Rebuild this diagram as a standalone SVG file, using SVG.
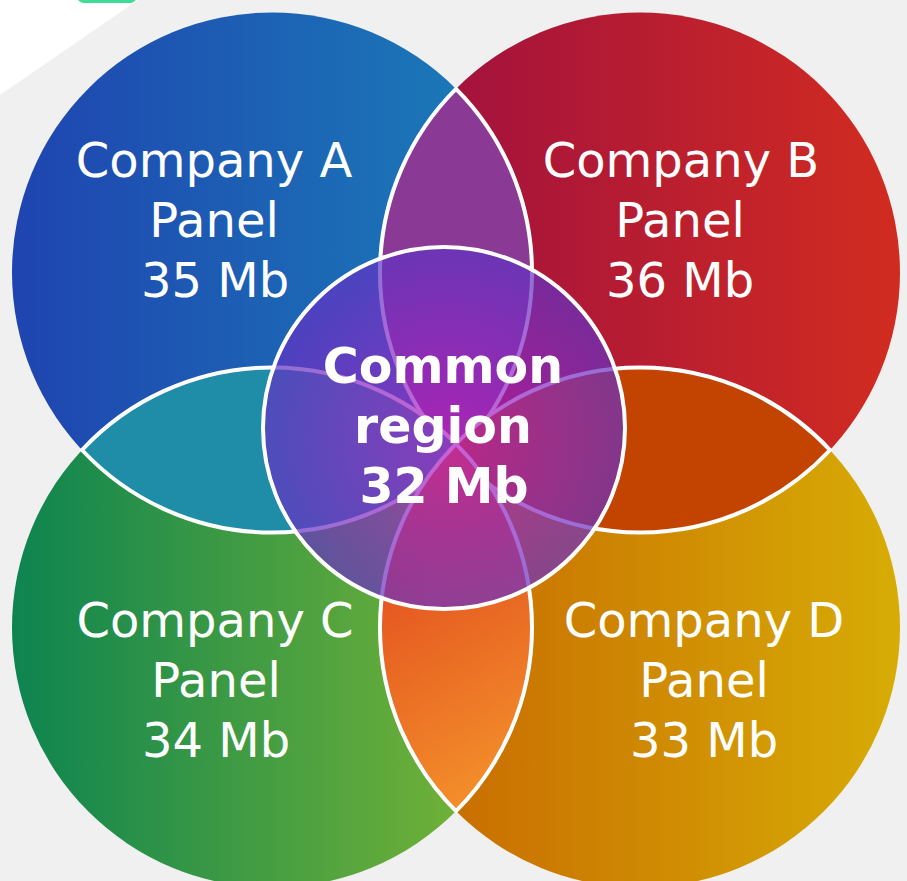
<svg xmlns="http://www.w3.org/2000/svg" width="907" height="881" viewBox="0 0 907 881">
  <defs>
    <linearGradient id="gA" gradientUnits="userSpaceOnUse" x1="12" y1="0" x2="532" y2="0">
      <stop offset="0" stop-color="#1f44b0"/>
      <stop offset="1" stop-color="#1a80b8"/>
    </linearGradient>
    <linearGradient id="gB" gradientUnits="userSpaceOnUse" x1="380" y1="0" x2="900" y2="0">
      <stop offset="0" stop-color="#9c0e42"/>
      <stop offset="1" stop-color="#d22c20"/>
    </linearGradient>
    <linearGradient id="gC" gradientUnits="userSpaceOnUse" x1="12" y1="0" x2="532" y2="0">
      <stop offset="0" stop-color="#0d8450"/>
      <stop offset="1" stop-color="#80b833"/>
    </linearGradient>
    <linearGradient id="gD" gradientUnits="userSpaceOnUse" x1="380" y1="0" x2="900" y2="0">
      <stop offset="0" stop-color="#c66400"/>
      <stop offset="1" stop-color="#d7ac05"/>
    </linearGradient>
    <linearGradient id="gCD" gradientUnits="userSpaceOnUse" x1="390" y1="580" x2="520" y2="790">
      <stop offset="0" stop-color="#e45520"/>
      <stop offset="1" stop-color="#f4922b"/>
    </linearGradient>
    <radialGradient id="gCommon" gradientUnits="userSpaceOnUse" cx="450" cy="440" r="185">
      <stop offset="0" stop-color="#b61cc2"/>
      <stop offset="1" stop-color="#6232c4"/>
    </radialGradient>
  </defs>
  <style>
    .lens { stroke: #ffffff; stroke-width: 4; }
    .lbl { font-family: "DejaVu Sans", "Liberation Sans", sans-serif; font-size: 48px; fill: #ffffff; text-anchor: middle; }
    .lblb { font-family: "DejaVu Sans", "Liberation Sans", sans-serif; font-size: 49px; font-weight: bold; fill: #ffffff; text-anchor: middle; }
  </style>
  <rect x="0" y="0" width="907" height="881" fill="#f0f0f0"/>
  <polygon points="0,0 138,0 0,95" fill="#ffffff"/>
  <rect x="77" y="-20" width="60" height="23" rx="7" fill="#3fdc98"/>

  <g id="circleA"><circle cx="272" cy="272.5" r="260" fill="url(#gA)"/></g>
  <g id="circleB"><circle cx="640" cy="272.5" r="260" fill="url(#gB)"/></g>
  <g id="circleC"><circle cx="272" cy="627.5" r="260" fill="url(#gC)"/></g>
  <g id="circleD"><circle cx="640" cy="627.5" r="260" fill="url(#gD)"/></g>

  <g id="lensAB"><path class="lens" fill="#8a3a94" d="M456,88.8 A260,260 0 0 1 456,456.2 A260,260 0 0 1 456,88.8 Z"/></g>
  <g id="lensAC"><path class="lens" fill="#1f8ca8" d="M82,450 A260,260 0 0 1 462,450 A260,260 0 0 1 82,450 Z"/></g>
  <g id="lensBD"><path class="lens" fill="#c24400" d="M450,450 A260,260 0 0 1 830,450 A260,260 0 0 1 450,450 Z"/></g>
  <g id="lensCD"><path class="lens" fill="url(#gCD)" d="M456,443.8 A260,260 0 0 1 456,811.2 A260,260 0 0 1 456,443.8 Z"/></g>

  <g id="common">
    <circle cx="444" cy="428" r="181" fill="url(#gCommon)" fill-opacity="0.7"/>
    <circle cx="444" cy="428" r="181" fill="none" stroke="#ffffff" stroke-width="4"/>
    <text class="lblb" x="443" y="383">Common</text>
    <text class="lblb" x="443" y="443">region</text>
    <text class="lblb" x="444" y="503">32 Mb</text>
  </g>

  <g id="labelA">
    <text class="lbl" x="214" y="177">Company A</text>
    <text class="lbl" x="214" y="237">Panel</text>
    <text class="lbl" x="215" y="297">35 Mb</text>
  </g>
  <g id="labelB">
    <text class="lbl" x="681" y="177">Company B</text>
    <text class="lbl" x="680" y="237">Panel</text>
    <text class="lbl" x="680" y="297">36 Mb</text>
  </g>
  <g id="labelC">
    <text class="lbl" x="215" y="637">Company C</text>
    <text class="lbl" x="216" y="697">Panel</text>
    <text class="lbl" x="216" y="757">34 Mb</text>
  </g>
  <g id="labelD">
    <text class="lbl" x="704" y="637">Company D</text>
    <text class="lbl" x="704" y="697">Panel</text>
    <text class="lbl" x="704" y="757">33 Mb</text>
  </g>
  <g id="connectors"/>
</svg>
